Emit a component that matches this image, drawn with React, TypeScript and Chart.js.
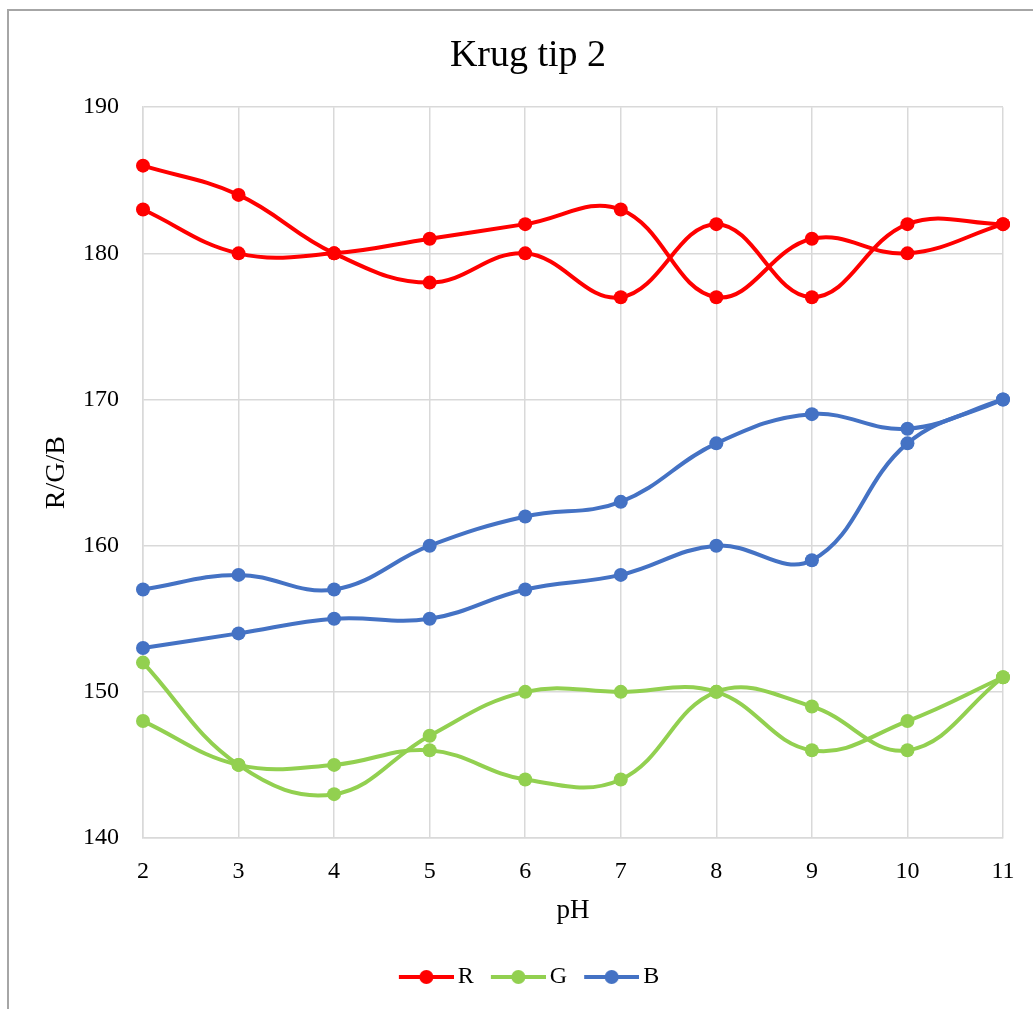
import React, { useEffect, useRef } from 'react';
import { Chart, registerables } from 'chart.js';

Chart.register(...registerables);

const categories = ['2', '3', '4', '5', '6', '7', '8', '9', '10', '11'];
const rSeriesA = [186, 184, 180, 178, 180, 177, 182, 177, 182, 182];
const rSeriesB = [183, 180, 180, 181, 182, 183, 177, 181, 180, 182];
const gSeriesA = [152, 145, 143, 147, 150, 150, 150, 146, 148, 151];
const gSeriesB = [148, 145, 145, 146, 144, 144, 150, 149, 146, 151];
const bSeriesA = [157, 158, 157, 160, 162, 163, 167, 169, 168, 170];
const bSeriesB = [153, 154, 155, 155, 157, 158, 160, 159, 167, 170];
const seriesNames = ['R', 'G', 'B'];
const seriesColors = ['#ff0000', '#92d050', '#4472c4'];
const yMin = 140;
const yMax = 190;
const yStep = 10;
const chartTitle = 'Krug tip 2';
const xTitle = 'pH';
const yTitle = 'R/G/B';

const FONT = '"Liberation Serif", "Times New Roman", serif';

function legendImage(color: string): HTMLCanvasElement {
  const c = document.createElement('canvas');
  c.width = 65;
  c.height = 16;
  const ctx = c.getContext('2d')!;
  ctx.strokeStyle = color;
  ctx.lineWidth = 4;
  ctx.beginPath();
  ctx.moveTo(10, 8);
  ctx.lineTo(65, 8);
  ctx.stroke();
  ctx.fillStyle = color;
  ctx.beginPath();
  ctx.arc(37.5, 8, 7, 0, Math.PI * 2);
  ctx.fill();
  return c;
}

export default function App() {
  const ref = useRef<HTMLCanvasElement | null>(null);

  useEffect(() => {
    if (!ref.current) return;
    const seriesData = [rSeriesA, rSeriesB, gSeriesA, gSeriesB, bSeriesA, bSeriesB];
    const datasets = seriesData.map((d, i) => {
      const c = seriesColors[Math.floor(i / 2)];
      return {
        label: seriesNames[Math.floor(i / 2)],
        data: d,
        borderColor: c,
        backgroundColor: c,
        borderWidth: 4,
        pointRadius: 7,
        pointHoverRadius: 7,
        pointBorderWidth: 0,
        pointBackgroundColor: c,
        tension: 0.4,
        fill: false,
        yAxisID: 'y',
      };
    });
    const images = seriesColors.map(legendImage);

    const chart = new Chart(ref.current, {
      type: 'line',
      data: { labels: categories, datasets },
      options: {
        animation: false,
        responsive: false,
        devicePixelRatio: 1,
        layout: { padding: { left: 0, right: 0, top: 0, bottom: 12 } },
        plugins: {
          tooltip: { enabled: false },
          title: {
            display: true,
            text: chartTitle,
            color: '#000',
            font: { family: FONT, size: 38, weight: 'normal', lineHeight: 1.2 },
            padding: { top: 22, bottom: 28.6 },
          },
          legend: {
            display: true,
            position: 'bottom',
            labels: {
              usePointStyle: true,
              pointStyleWidth: 49,
              padding: 15,
              color: '#000',
              font: { family: FONT, size: 24 },
              generateLabels: () =>
                seriesNames.map((n, k) => ({
                  text: n,
                  pointStyle: images[k],
                  fillStyle: seriesColors[k],
                  strokeStyle: seriesColors[k],
                  lineWidth: 0,
                  hidden: false,
                  datasetIndex: k * 2,
                  fontColor: '#000',
                })),
            },
          },
        },
        scales: {
          x: {
            type: 'category',
            offset: false,
            grid: { color: '#d9d9d9', lineWidth: 1.5, drawTicks: false },
            border: { color: '#d9d9d9', width: 1.5 },
            ticks: { color: '#000', font: { family: FONT, size: 24 }, padding: 19, maxRotation: 0 },
            title: {
              display: true,
              text: xTitle,
              color: '#000',
              font: { family: FONT, size: 27, lineHeight: 1.2 },
              padding: { top: 0, bottom: 22.8 },
            },
            afterFit: (s: any) => {
              s.height = 112;
            },
          },
          y: {
            type: 'linear',
            position: 'left',
            min: yMin,
            max: yMax,
            ticks: { stepSize: yStep, color: '#000', font: { family: FONT, size: 24 }, padding: 24 },
            grid: { color: '#d9d9d9', lineWidth: 1.5, drawTicks: false },
            border: { color: '#d9d9d9', width: 1.5 },
            title: {
              display: true,
              text: yTitle,
              color: '#000',
              font: { family: FONT, size: 28, lineHeight: 1.2 },
              padding: { top: 31.2, bottom: 0 },
            },
            afterFit: (s: any) => {
              s.width = 134;
            },
          },
          yRight: {
            type: 'linear',
            position: 'right',
            display: true,
            min: yMin,
            max: yMax,
            grid: { display: false, drawTicks: false },
            border: { display: false },
            ticks: { display: false },
            afterFit: (s: any) => {
              s.width = 44;
            },
          },
        },
      },
    } as any);
    return () => chart.destroy();
  }, []);

  return (
    <div
      style={{
        position: 'fixed',
        left: 0,
        top: 0,
        width: 1033,
        height: 1009,
        overflow: 'hidden',
        background: '#fff',
      }}
    >
      <div
        style={{
          position: 'absolute',
          left: 7,
          top: 9,
          width: 1040,
          height: 1010,
          border: '2px solid #a6a6a6',
          boxSizing: 'content-box',
        }}
      >
        <canvas ref={ref} width={1038} height={1000} style={{ display: 'block' }} />
      </div>
    </div>
  );
}
